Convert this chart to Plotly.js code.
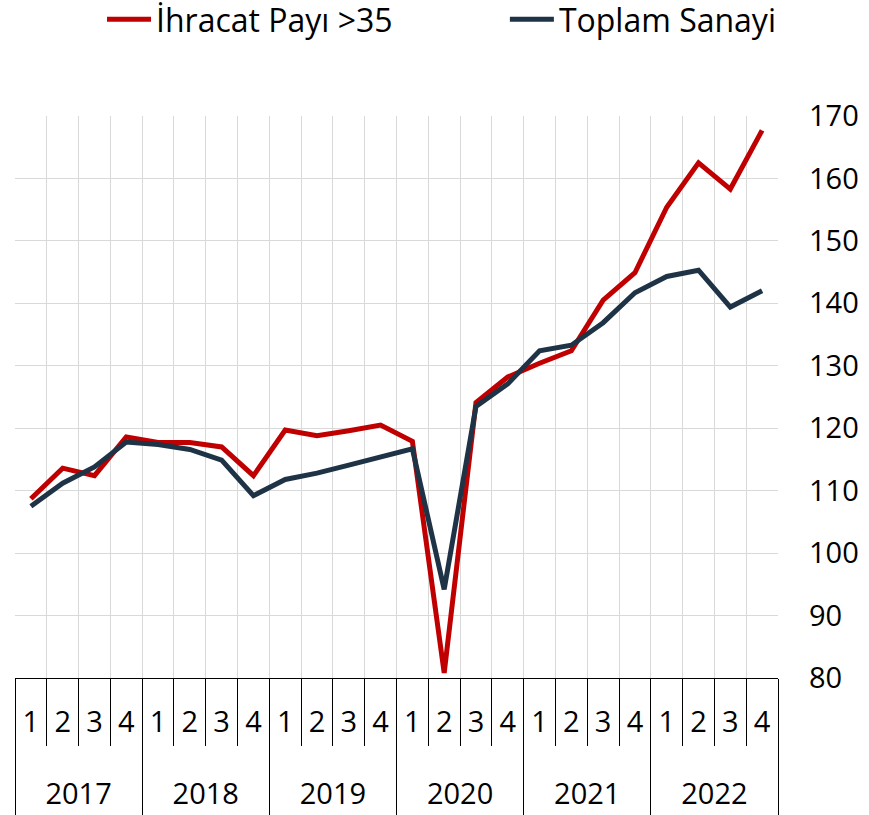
<!DOCTYPE html>
<html>
<head>
<meta charset="utf-8">
<script src="https://cdn.plot.ly/plotly-3.0.1.min.js"></script>
<style>html,body{margin:0;padding:0;background:#fff;}#chart{width:869px;height:815px;}</style>
</head>
<body>
<div id="chart"></div>
<script>
const years = ['2017', '2018', '2019', '2020', '2021', '2022'];
const quarters = ['1', '2', '3', '4'];
const ihracatPayi = [108.7, 113.6, 112.4, 118.6, 117.7, 117.7, 117.0, 112.4, 119.7, 118.8, 119.6, 120.5,
                     117.9, 80.8, 124.1, 128.2, 130.4, 132.4, 140.5, 144.9, 155.4, 162.5, 158.3, 167.7];
const toplamSanayi = [107.5, 111.2, 113.8, 117.8, 117.4, 116.6, 114.9, 109.2, 111.8, 112.8, 114.1, 115.4,
                      116.7, 94.2, 123.5, 127.1, 132.4, 133.3, 136.9, 141.7, 144.3, 145.3, 139.4, 142.0];
const seriesNames = ['İhracat Payı >35', 'Toplam Sanayi'];
const yTicks = [80, 90, 100, 110, 120, 130, 140, 150, 160, 170];

// category positions derived from the year / quarter lists
const quarterLabels = [], xIndex = [];
years.forEach(y => quarters.forEach(q => { xIndex.push(quarterLabels.length); quarterLabels.push(q); }));
const nQ = quarters.length;
const quarterBounds = xIndex.map(i => i - 0.5).concat([xIndex.length - 0.5]);
const yearCenters = years.map((y, i) => i * nQ + (nQ - 1) / 2);
const yearBounds = years.map((y, i) => i * nQ - 0.5).concat([years.length * nQ - 0.5]);
const xRange = [-0.5, xIndex.length - 0.5];

const FONT = 'Open Sans, DejaVu Sans, sans-serif';
const traces = [
  {x: xIndex, y: ihracatPayi, name: seriesNames[0], type: 'scatter', mode: 'lines',
   line: {color: '#C00000', width: 5}, legend: 'legend', xaxis: 'x', yaxis: 'y'},
  {x: xIndex, y: toplamSanayi, name: seriesNames[1], type: 'scatter', mode: 'lines',
   line: {color: '#1F3347', width: 5}, legend: 'legend2', xaxis: 'x2', yaxis: 'y'}
];

const legendBase = {orientation: 'h', xanchor: 'left', xref: 'container', y: 0.976, yanchor: 'middle', yref: 'container',
  font: {family: FONT, size: 32, color: '#000'}, itemwidth: 44, bgcolor: 'rgba(0,0,0,0)'};

const layout = {
  width: 869, height: 815,
  margin: {l: 15, r: 91, t: 116, b: 137},
  paper_bgcolor: '#fff', plot_bgcolor: '#fff',
  font: {family: FONT, size: 29, color: '#000'},
  showlegend: true,
  legend: Object.assign({}, legendBase, {x: 0.1174}),
  legend2: Object.assign({}, legendBase, {x: 0.581}),
  xaxis: {
    type: 'linear', range: xRange, tickmode: 'array', tickvals: xIndex, ticktext: quarterLabels,
    showgrid: false, zeroline: false, ticks: '',
    ticklabelstandoff: 18,
    minor: {tickmode: 'array', tickvals: quarterBounds, showgrid: true, gridcolor: '#d9d9d9', gridwidth: 1,
            ticks: 'outside', ticklen: 67, tickcolor: '#000', tickwidth: 1},
    showline: true, linecolor: '#000', linewidth: 1,
    tickfont: {family: FONT, size: 29, color: '#000'}
  },
  xaxis2: {
    type: 'linear', range: xRange, overlaying: 'x', anchor: 'y', side: 'bottom',
    tickmode: 'array', tickvals: yearCenters, ticktext: years,
    showgrid: false, zeroline: false, ticks: '', showline: false,
    ticklabelstandoff: 96,
    minor: {tickmode: 'array', tickvals: yearBounds, showgrid: false,
            ticks: 'outside', ticklen: 137, tickcolor: '#000', tickwidth: 1},
    tickfont: {family: FONT, size: 29, color: '#000'}
  },
  yaxis: {
    side: 'right', range: [80, 170], tickvals: yTicks, ticktext: yTicks.map(String),
    showgrid: true, gridcolor: '#d9d9d9', gridwidth: 1, zeroline: false, showline: false,
    ticks: '', ticklabelstandoff: 30,
    tickfont: {family: FONT, size: 29, color: '#000'}
  }
};

Plotly.newPlot('chart', traces, layout, {displayModeBar: false, staticPlot: true});
</script>
</body>
</html>
